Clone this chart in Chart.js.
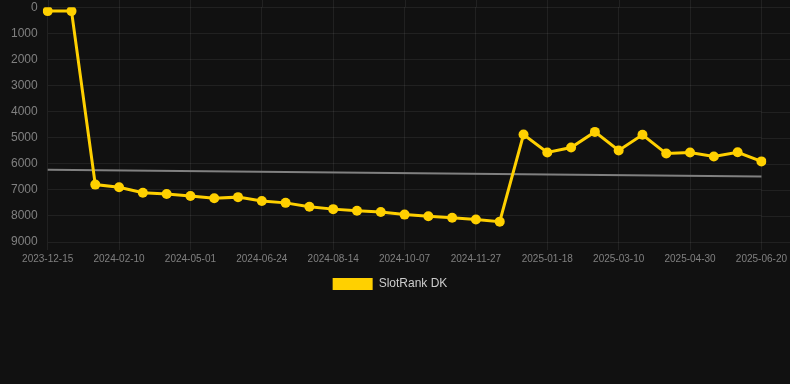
<!DOCTYPE html>
<html>
<head>
<meta charset="utf-8">
<script src="https://cdn.jsdelivr.net/npm/chart.js@4/dist/chart.umd.min.js"></script>
<style>
  html, body { margin: 0; padding: 0; background: #111111; }
  #wrap { position: relative; width: 790px; height: 300px; }
</style>
</head>
<body>
<div id="wrap"><canvas id="c"></canvas></div>
<script>
const dateLabels = [
  '2023-12-15','2023-12-29','2024-01-20','2024-02-10','2024-03-09','2024-04-05',
  '2024-05-01','2024-05-19','2024-06-06','2024-06-24','2024-07-11','2024-07-28',
  '2024-08-14','2024-09-01','2024-09-19','2024-10-07','2024-10-24','2024-11-10',
  '2024-11-27','2024-12-14','2025-01-01','2025-01-18','2025-02-04','2025-02-21',
  '2025-03-10','2025-03-27','2025-04-13','2025-04-30','2025-05-17','2025-06-03',
  '2025-06-20'
];
const rankValues = [
  150, 150, 6800, 6900, 7110, 7160, 7240, 7320, 7280, 7430, 7500, 7650,
  7740, 7800, 7850, 7950, 8010, 8070, 8140, 8220, 4880, 5570, 5380, 4780,
  5490, 4890, 5610, 5570, 5720, 5560, 5910
];
const trendValues = [6230, null, null, null, null, null, null, null, null, null, null, null,
  null, null, null, null, null, null, null, null, null, null, null, null,
  null, null, null, null, null, null, 6490];
const yTicks = [0, 1000, 2000, 3000, 4000, 5000, 6000, 7000, 8000, 9000];

const gridColor = 'rgba(255,255,255,0.07)';

// extends the grid lines of the scales to the canvas edges (top and right), as in the reference
const gridExtend = {
  id: 'gridExtend',
  beforeDatasetsDraw(chart) {
    const ctx = chart.ctx, area = chart.chartArea;
    const xs = chart.scales.x, ys = chart.scales.y;
    ctx.save();
    ctx.strokeStyle = gridColor;
    ctx.lineWidth = 1;
    ys.ticks.forEach(t => {
      const y = Math.round(ys.getPixelForValue(t.value)) + 0.5;
      ctx.beginPath(); ctx.moveTo(area.right, y); ctx.lineTo(chart.width, y); ctx.stroke();
    });
    dateLabels.forEach((l, i) => {
      if (i % 3 !== 0) return;
      const x = Math.round(xs.getPixelForValue(i)) + 0.5;
      ctx.beginPath(); ctx.moveTo(x, 0); ctx.lineTo(x, area.top); ctx.stroke();
    });
    ctx.restore();
  }
};

new Chart(document.getElementById('c'), {
  type: 'line',
  data: {
    labels: dateLabels,
    datasets: [
      {
        label: 'SlotRank DK',
        data: rankValues,
        borderColor: '#ffd000',
        backgroundColor: '#ffd000',
        borderWidth: 3,
        pointRadius: 5,
        pointBorderWidth: 0,
        pointHoverRadius: 5,
        pointBackgroundColor: '#ffd000',
        pointBorderColor: '#ffd000',
        tension: 0,
        order: 1
      },
      {
        label: 'trend',
        data: trendValues,
        spanGaps: true,
        borderColor: '#808080',
        borderWidth: 2,
        pointRadius: 0,
        order: 2
      }
    ]
  },
  plugins: [gridExtend],
  options: {
    responsive: true,
    maintainAspectRatio: false,
    animation: false,
    layout: { padding: { left: 11, top: 0, right: 21, bottom: 0 }, autoPadding: false },
    plugins: {
      legend: {
        position: 'bottom',
        labels: {
          color: '#cccccc',
          font: { family: 'Liberation Sans', size: 12 },
          boxWidth: 40,
          boxHeight: 12,
          generateLabels: (chart) => Chart.defaults.plugins.legend.labels.generateLabels(chart)
            .filter(item => item.text === 'SlotRank DK')
            .map(item => Object.assign(item, { lineWidth: 0 }))
        }
      },
      tooltip: { enabled: false }
    },
    scales: {
      x: {
        type: 'category',
        grid: { color: gridColor },
        border: { display: false },
        ticks: {
          color: '#808080',
          font: { family: 'Liberation Sans', size: 10 },
          autoSkip: false,
          maxRotation: 0,
          minRotation: 0,
          callback: function(value, index) {
            return index % 3 === 0 ? dateLabels[index] : null;
          }
        }
      },
      y: {
        reverse: true,
        min: 0,
        max: 9000,
        afterBuildTicks: (axis) => { axis.ticks = yTicks.map(v => ({ value: v })); },
        grid: { color: gridColor, drawTicks: true, tickLength: 10, tickColor: 'rgba(0,0,0,0)' },
        border: { display: false },
        ticks: {
          color: '#808080',
          padding: 0,
          font: { family: 'Liberation Sans', size: 12 },
          callback: (v) => String(v)
        }
      }
    }
  }
});
</script>
</body>
</html>
